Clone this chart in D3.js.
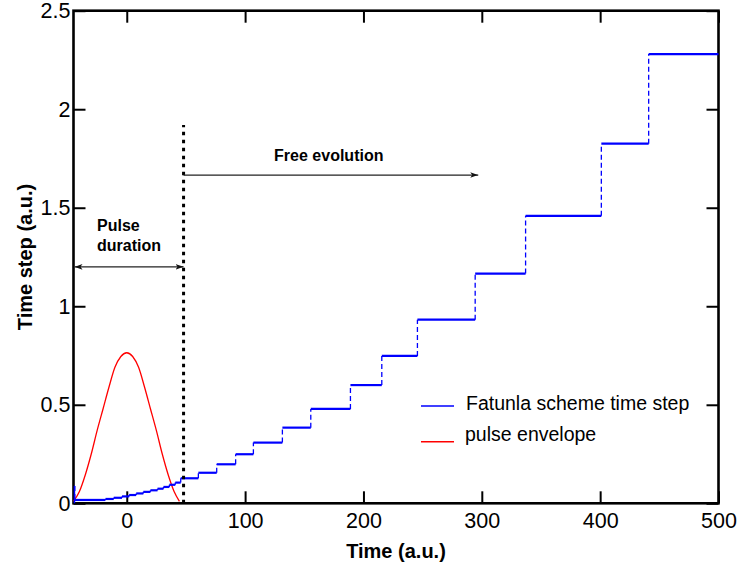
<!DOCTYPE html>
<html>
<head>
<meta charset="utf-8">
<script src="https://cdn.jsdelivr.net/npm/d3@7"></script>
<style>
body{margin:0;background:#fff;}
text{font-family:'Liberation Sans',Arial,Helvetica,sans-serif;fill:#000;}
</style>
</head>
<body>
<svg id="chart" width="738" height="570"></svg>
<script>
// Fatunla scheme time step, value holds until the next time
const stepTimes=[-44.2,-43.9,-18,-11,-4,2,8,14,20,26,31,36,41,45.6,60.5,76,92,107,131.5,155.5,189,215.5,245.6,294.4,337,401,441,500]
const stepValues=[0.088,0.017,0.022,0.028,0.035,0.042,0.05,0.058,0.066,0.074,0.083,0.094,0.105,0.127,0.155,0.198,0.249,0.308,0.384,0.479,0.60,0.748,0.932,1.166,1.459,1.825,2.28,2.28]

// pulse envelope
const pulseTimes=[-45,-40,-35,-30,-25,-20,-15,-10,-5,0,5,10,15,20,25,30,35,40,44.5]
const pulseValues=[0.01,0.06,0.145,0.25,0.37,0.48,0.59,0.69,0.745,0.764,0.745,0.69,0.59,0.48,0.37,0.25,0.145,0.06,0.01]

const xTicks=[0,100,200,300,400,500]
const yTicks=[0,0.5,1,1.5,2,2.5]
const yTickLabels=['0','0.5','1','1.5','2','2.5']
const pulseEnd=48
const freeEnd=297

const svg=d3.select('#chart')
const box={left:73.5,right:718.5,top:10.7,bottom:503.3}

const xScale=d3.scaleLinear().domain([-45,500]).range([box.left,box.right])
const yScale=d3.scaleLinear().domain([0,2.5]).range([box.bottom,box.top])

const defs=svg.append('defs')
defs.append('marker')
    .attr('id','headEnd')
    .attr('viewBox','0 0 10 10')
    .attr('refX',10).attr('refY',5)
    .attr('markerWidth',8).attr('markerHeight',8)
    .attr('markerUnits','userSpaceOnUse')
    .attr('orient','auto')
    .append('path')
    .attr('d','M0,1.5 L10,5 L0,8.5 L2.5,5 Z')
    .attr('fill','#111')
defs.append('marker')
    .attr('id','headStart')
    .attr('viewBox','0 0 10 10')
    .attr('refX',0).attr('refY',5)
    .attr('markerWidth',8).attr('markerHeight',8)
    .attr('markerUnits','userSpaceOnUse')
    .attr('orient','auto')
    .append('path')
    .attr('d','M10,1.5 L0,5 L10,8.5 L7.5,5 Z')
    .attr('fill','#111')

// axes, ticks on all four sides pointing inward
const tickLen=12
svg.append('g')
    .attr('transform',`translate(0,${box.bottom})`)
    .call(d3.axisBottom(xScale).tickValues(xTicks).tickSize(-tickLen).tickPadding(9).tickFormat(d3.format('d')))
    .call(g=>g.select('.domain').remove())
    .call(g=>g.selectAll('line').attr('stroke','#000').attr('stroke-width',2))
    .call(g=>g.selectAll('text').attr('font-size','21.5px').attr('font-family','Liberation Sans, Arial, sans-serif').attr('fill','#000'))
svg.append('g')
    .attr('transform',`translate(0,${box.top})`)
    .call(d3.axisTop(xScale).tickValues(xTicks).tickSize(-tickLen).tickFormat(''))
    .call(g=>g.select('.domain').remove())
    .call(g=>g.selectAll('line').attr('stroke','#000').attr('stroke-width',2))
svg.append('g')
    .attr('transform',`translate(${box.left},0)`)
    .call(d3.axisLeft(yScale).tickValues(yTicks).tickSize(-tickLen).tickPadding(3).tickFormat((d,i)=>yTickLabels[i]))
    .call(g=>g.select('.domain').remove())
    .call(g=>g.selectAll('line').attr('stroke','#000').attr('stroke-width',2))
    .call(g=>g.selectAll('text').attr('x',-3).attr('font-size','21.5px').attr('font-family','Liberation Sans, Arial, sans-serif').attr('fill','#000'))
svg.append('g')
    .attr('transform',`translate(${box.right},0)`)
    .call(d3.axisRight(yScale).tickValues(yTicks).tickSize(-tickLen).tickFormat(''))
    .call(g=>g.select('.domain').remove())
    .call(g=>g.selectAll('line').attr('stroke','#000').attr('stroke-width',2))

// box frame
svg.append('rect')
    .attr('x',box.left).attr('y',box.top)
    .attr('width',box.right-box.left).attr('height',box.bottom-box.top)
    .attr('fill','none')
    .attr('stroke','#000')
    .attr('stroke-width',2.6)

// pulse envelope
svg.append('path')
    .datum(pulseTimes.map((t,i)=>[t,pulseValues[i]]))
    .attr('fill','none')
    .attr('stroke','#ff0000')
    .attr('stroke-width',1.3)
    .attr('d',d3.line().x(d=>xScale(d[0])).y(d=>yScale(d[1])).curve(d3.curveMonotoneX))

// time step: flat parts solid, jumps dashed
const flats=stepTimes.slice(0,-1).map((t,i)=>({x0:t,x1:stepTimes[i+1],y:stepValues[i]}))
const jumps=stepTimes.slice(1,-1).map((t,i)=>({x:t,y0:stepValues[i],y1:stepValues[i+1]}))
svg.append('g').selectAll('line')
    .data(flats)
    .join('line')
    .attr('x1',d=>xScale(d.x0)).attr('x2',d=>xScale(d.x1))
    .attr('y1',d=>yScale(d.y)).attr('y2',d=>yScale(d.y))
    .attr('stroke','#0000ff')
    .attr('stroke-width',2.2)
svg.append('g').selectAll('line')
    .data(jumps)
    .join('line')
    .attr('x1',d=>xScale(d.x)).attr('x2',d=>xScale(d.x))
    .attr('y1',d=>yScale(d.y0)).attr('y2',d=>yScale(d.y1))
    .attr('stroke','#0000ff')
    .attr('stroke-width',1.3)
    .attr('stroke-dasharray','5,3')
// left edge spike
svg.append('line')
    .attr('x1',xScale(stepTimes[0])).attr('x2',xScale(stepTimes[0]))
    .attr('y1',yScale(0)).attr('y2',yScale(stepValues[0]))
    .attr('stroke','#0000ff')
    .attr('stroke-width',1.5)

// end of pulse marker
svg.append('line')
    .attr('x1',xScale(pulseEnd)).attr('x2',xScale(pulseEnd))
    .attr('y1',yScale(0)).attr('y2',yScale(1.92))
    .attr('stroke','#000')
    .attr('stroke-width',3)
    .attr('stroke-dasharray','3.5,4.5')

svg.append('line')
    .attr('x1',xScale(pulseEnd)).attr('x2',xScale(freeEnd))
    .attr('y1',yScale(1.666)).attr('y2',yScale(1.666))
    .attr('stroke','#222')
    .attr('stroke-width',1.3)
    .attr('marker-end','url(#headEnd)')
svg.append('text')
    .attr('x',xScale(124.5)).attr('y',161)
    .attr('font-size','16px')
    .attr('font-weight','bold')
    .text('Free evolution')

svg.append('line')
    .attr('x1',xScale(-45)+1).attr('x2',xScale(pulseEnd))
    .attr('y1',yScale(1.2)).attr('y2',yScale(1.2))
    .attr('stroke','#222')
    .attr('stroke-width',1.3)
    .attr('marker-start','url(#headStart)')
    .attr('marker-end','url(#headEnd)')
svg.append('text')
    .attr('x',97).attr('y',230.5)
    .attr('font-size','16px')
    .attr('font-weight','bold')
    .text('Pulse')
svg.append('text')
    .attr('x',97).attr('y',250.5)
    .attr('font-size','16px')
    .attr('font-weight','bold')
    .text('duration')

// legend
const legend=[
    {label:'Fatunla scheme time step',color:'#0000ff',lineY:406,textY:409.5,textX:466},
    {label:'pulse envelope',color:'#ff0000',lineY:441.7,textY:441,textX:465}
]
legend.forEach(d=>{
    svg.append('line')
        .attr('x1',421).attr('x2',454)
        .attr('y1',d.lineY).attr('y2',d.lineY)
        .attr('stroke',d.color)
        .attr('stroke-width',1.4)
    svg.append('text')
        .attr('x',d.textX).attr('y',d.textY)
        .attr('font-size','19.5px')
        .text(d.label)
})

// axis titles
svg.append('text')
    .attr('x',(box.left+box.right)/2).attr('y',558)
    .attr('text-anchor','middle')
    .attr('font-size','20px')
    .attr('font-weight','bold')
    .text('Time (a.u.)')
svg.append('text')
    .attr('transform',`translate(31.5,${(box.top+box.bottom)/2}) rotate(-90)`)
    .attr('text-anchor','middle')
    .attr('font-size','20px')
    .attr('font-weight','bold')
    .text('Time step (a.u.)')
</script>
</body>
</html>
